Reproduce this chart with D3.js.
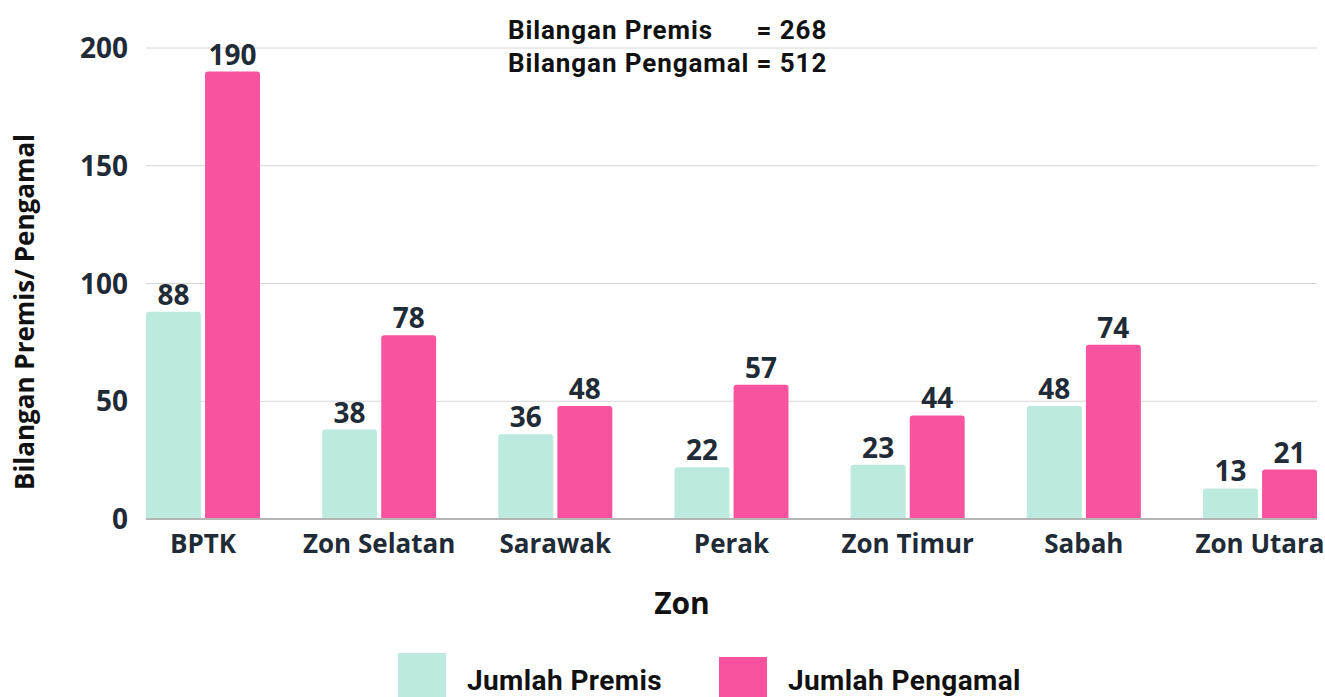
<!DOCTYPE html>
<html>
<head>
<meta charset="utf-8">
<script src="https://cdn.jsdelivr.net/npm/d3@7"></script>
<style>
  body { margin: 0; background: #fff; }
  svg text { font-family: "Open Sans", sans-serif; font-weight: 700; }
  svg .cond text { font-family: Roboto, sans-serif; }
</style>
</head>
<body>
<svg id="chart" width="1325" height="697"></svg>
<script>
const zones = ['BPTK', 'Zon Selatan', 'Sarawak', 'Perak', 'Zon Timur', 'Sabah', 'Zon Utara'];
const premis = [88, 38, 36, 22, 23, 48, 13];
const pengamal = [190, 78, 48, 57, 44, 74, 21];
const series = ['Jumlah Premis', 'Jumlah Pengamal'];
const colors = ['#bdeadf', '#f7539e'];
const yTicks = [0, 50, 100, 150, 200];
const notes = [['Bilangan Premis', '= 268'], ['Bilangan Pengamal', '= 512']];

const svg = d3.select('#chart');
const textColor = '#1f2b36';

const x = d3.scaleBand().domain(zones).range([146, 1317]).paddingInner(0.353).paddingOuter(0);
const xInner = d3.scaleBand().domain(series).range([0, x.bandwidth()]).paddingInner(0.07);
const y = d3.scaleLinear().domain([0, 200]).range([519, 48]);

// grid lines
svg.append('g').selectAll('line')
  .data(yTicks.filter(d => d > 0))
  .enter().append('line')
  .attr('x1', 146).attr('x2', 1317)
  .attr('y1', d => y(d)).attr('y2', d => y(d))
  .style('stroke', '#d6d6d6').style('stroke-width', 1);

// y tick labels
svg.append('g').selectAll('text')
  .data(yTicks)
  .enter().append('text')
  .attr('x', 128).attr('y', d => y(d))
  .attr('dy', '0.36em')
  .attr('text-anchor', 'end')
  .style('font-size', '28px')
  .style('fill', textColor)
  .text(d => d);

// bars with rounded tops
function topRounded(x0, y0, w, h, r) {
  r = Math.min(r, h, w / 2);
  return `M${x0},${y0 + h}V${y0 + r}Q${x0},${y0} ${x0 + r},${y0}H${x0 + w - r}Q${x0 + w},${y0} ${x0 + w},${y0 + r}V${y0 + h}Z`;
}

const rows = zones.map((z, i) => ({ zone: z, values: [premis[i], pengamal[i]] }));

const groups = svg.append('g').selectAll('g')
  .data(rows)
  .enter().append('g')
  .attr('transform', d => `translate(${x(d.zone)},0)`);

groups.selectAll('path')
  .data(d => d.values.map((v, j) => ({ key: series[j], value: v, color: colors[j] })))
  .enter().append('path')
  .attr('d', d => topRounded(xInner(d.key), y(d.value), xInner.bandwidth(), y(0) - y(d.value), 3))
  .style('fill', d => d.color);

groups.selectAll('text')
  .data(d => d.values.map((v, j) => ({ key: series[j], value: v })))
  .enter().append('text')
  .attr('x', d => xInner(d.key) + xInner.bandwidth() / 2)
  .attr('y', d => y(d.value) - 7)
  .attr('text-anchor', 'middle')
  .style('font-size', '28px')
  .style('fill', textColor)
  .text(d => d.value);

// baseline
svg.append('line')
  .attr('x1', 146).attr('x2', 1317)
  .attr('y1', y(0)).attr('y2', y(0))
  .style('stroke', '#b5b5b5').style('stroke-width', 2);

// category labels
svg.append('g').selectAll('text')
  .data(zones)
  .enter().append('text')
  .attr('x', d => x(d) + x.bandwidth() / 2)
  .attr('y', 553)
  .attr('text-anchor', 'middle')
  .style('font-size', '26px')
  .style('fill', textColor)
  .text(d => d);

// axis titles
svg.append('text')
  .attr('x', 682).attr('y', 614)
  .attr('text-anchor', 'middle')
  .style('font-size', '30px')
  .style('fill', '#111')
  .text('Zon');

svg.append('text')
  .attr('transform', 'translate(34,312) rotate(-90)')
  .attr('text-anchor', 'middle')
  .style('font-size', '26px')
  .style('fill', '#111')
  .text('Bilangan Premis/ Pengamal');

// annotation: second line is written in one piece, first line's "=" lines up with it
const note = svg.append('g').attr('class', 'cond');
const noteStyle = sel => sel.style('font-size', '26px').style('letter-spacing', '0.9px').style('fill', '#111');
const line2 = note.append('text')
  .attr('x', 508).attr('y', 72)
  .call(noteStyle)
  .text(notes[1][0] + ' ' + notes[1][1]);
const eqX = line2.node().getStartPositionOfChar(notes[1][0].length + 1).x;
note.append('text')
  .attr('x', 508).attr('y', 39)
  .call(noteStyle)
  .text(notes[0][0]);
note.append('text')
  .attr('x', eqX).attr('y', 39)
  .call(noteStyle)
  .text(notes[0][1]);

// legend
const legendX = [398, 719];
const legendY = [653, 657];
const legend = svg.append('g').attr('class', 'cond');
series.forEach((s, i) => {
  legend.append('rect')
    .attr('x', legendX[i]).attr('y', legendY[i])
    .attr('width', 48).attr('height', 697 - legendY[i])
    .style('fill', colors[i]);
  legend.append('text')
    .attr('x', legendX[i] + 69).attr('y', 690)
    .style('font-size', '28px').style('letter-spacing', '0.4px').style('fill', '#111')
    .text(s);
});
</script>
</body>
</html>
